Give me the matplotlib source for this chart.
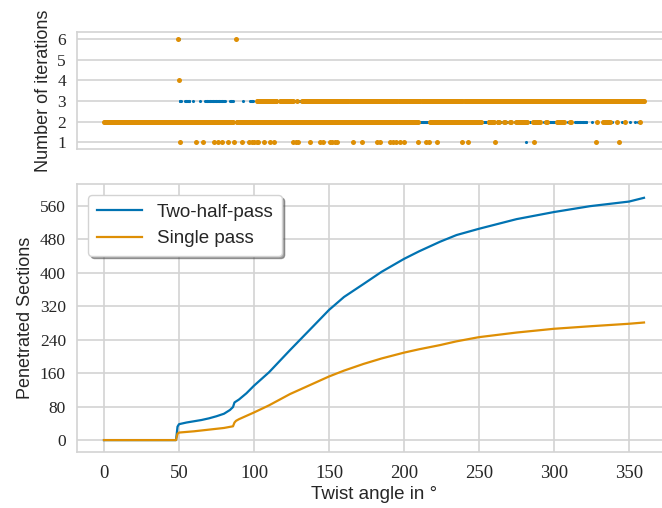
#!/usr/bin/env python
# coding: utf_8

import numpy as np
import matplotlib
matplotlib.use("Agg")
import matplotlib.pyplot as plt

# Penetrated sections (cumulative) vs. twist angle.
two_half_angle = [0, 48, 48.5, 49, 50, 55, 60, 65, 70, 75, 80, 84, 86, 87, 90, 95, 100, 110, 124,
                  140, 150, 160, 173, 185, 200, 210, 224, 235, 250, 275, 300, 324, 350, 360]
two_half_sections = [0, 0, 15, 32, 38, 42, 45, 48, 52, 57, 63, 72, 79, 90, 97, 112, 130, 162, 215,
                     274, 311, 342, 373, 402, 433, 451, 474, 490, 505, 528, 545, 559, 570, 579]
single_angle = [0, 48, 49, 50, 60, 70, 80, 86, 87, 88, 90, 100, 110, 124, 150, 160, 173, 185,
                200, 210, 224, 235, 250, 275, 300, 324, 350, 360]
single_sections = [0, 0, 15, 18, 21, 25, 29, 33, 42, 46, 50, 66, 83, 110, 152, 166, 182, 195,
                   209, 217, 227, 236, 246, 257, 266, 272, 278, 281]

# Number of iterations: angles sampled every 0.5 deg, intervals / single angles per level.
angle_grid = np.arange(0, 360.5, 0.5)

single_iter_runs = {
    2: [(0, 48.5), (49.5, 86), (88.5, 209.5), (217.5, 251.5), (256.5, 260), (262.5, 263.5),
        (267, 267.5), (271, 271.5), (275, 282), (286, 290.5), (294.5, 295), (302, 306.5),
        (310.5, 311), (328.5, 328.5), (332.5, 337), (342, 342), (347.5, 347.5), (357.5, 357.5)],
    3: [(102, 115), (117.5, 126), (128.5, 128.5), (132, 142), (143, 162.5), (164, 195.5),
        (197, 210.5), (212, 239), (240.5, 360)],
}
single_iter_points = {
    1: [50.5, 61.5, 66, 73.5, 76, 79, 83, 86.5, 92, 96.5, 98.5, 100, 102, 103, 107, 110.5, 113.5,
        126, 128, 129.5, 137.5, 144, 146, 150.5, 152, 154, 155.5, 166, 172, 182, 184, 190.5, 192.5,
        195, 197.5, 200, 209.5, 215, 217, 222, 239, 243, 260.5, 286.5, 328, 343],
    4: [50],
    6: [49.5, 88],
}

two_half_iter_runs = {
    2: [(0, 48.5), (49.5, 86), (88.5, 150), (209.5, 217.5), (251.5, 256), (296.5, 300.5),
        (314, 321.5)],
    3: [(50.5, 51.5), (54, 57), (59.5, 59.5), (64, 64), (67.5, 80.5), (84, 86), (93, 93),
        (97.5, 99.5), (102, 360)],
}
two_half_iter_points = {
    1: [281.5],
    2: [113, 145, 152, 155.5, 164, 173, 180.5, 190, 198.5, 205, 221.5, 228.5, 238.5, 244, 262,
        265, 268.5, 274, 284, 293, 309, 325, 338.5, 345, 350.5, 354, 356],
    6: [50],
}

blue = "#0173B2"
orange = "#DE8F05"
grid_c = "#d3d3d3"
text_c = "#262626"


def levelPoints(runs, points):
    xs, ys = [], []
    for level, spans in runs.items():
        for a, b in spans:
            sel = angle_grid[(angle_grid >= a) & (angle_grid <= b)]
            xs.extend(sel)
            ys.extend([level] * len(sel))
    for level, angles in points.items():
        xs.extend(angles)
        ys.extend([level] * len(angles))
    return xs, ys


def styleAxes(ax):
    for s in ax.spines.values():
        s.set_color(grid_c)
        s.set_linewidth(1.2)
    ax.tick_params(axis="y", length=0, labelsize=12.5, pad=8, colors=text_c)
    ax.tick_params(axis="x", length=0, labelsize=13.5, pad=9, colors=text_c)
    for lab in ax.get_xticklabels() + ax.get_yticklabels():
        lab.set_family("Liberation Serif")


def main():
    plt.rcParams['font.family'] = ['Liberation Sans', 'DejaVu Sans']
    fig = plt.figure(figsize=(6.62, 5.08), dpi=100)
    ax1 = fig.add_axes([0.1163, 0.7067, 0.8973, 0.2303])
    ax2 = fig.add_axes([0.1163, 0.1102, 0.8973, 0.5276], sharex=ax1)

    # Top: iterations
    bx, by = levelPoints(two_half_iter_runs, two_half_iter_points)
    ox, oy = levelPoints(single_iter_runs, single_iter_points)
    ax1.scatter(bx, by, s=5, color=blue, linewidths=0, zorder=3)
    ax1.scatter(ox, oy, s=13, color=orange, linewidths=0, zorder=4)
    ax1.set_ylim(0.68, 6.35)
    ax1.set_yticks([1, 2, 3, 4, 5, 6])
    ax1.grid(axis="y", color=grid_c, linewidth=1.2)
    ax1.grid(axis="x", visible=False)
    ax1.set_axisbelow(True)
    ax1.set_ylabel("Number of iterations", fontsize=13, color=text_c)

    # Bottom: penetrated sections
    ax2.plot(two_half_angle, two_half_sections, color=blue, linewidth=1.6, label="Two-half-pass")
    ax2.plot(single_angle, single_sections, color=orange, linewidth=1.6, label="Single pass")
    ax2.set_xlim(-18, 378)
    ax2.set_ylim(-28.5, 612)
    ax2.set_yticks(np.arange(0, 561, 80))
    ax2.set_xticks(np.arange(0, 351, 50))
    ax2.grid(color=grid_c, linewidth=1.2)
    ax2.set_axisbelow(True)
    ax2.set_ylabel("Penetrated Sections", fontsize=13, color=text_c)
    ax2.set_xlabel("Twist angle in °", fontsize=13.5, color=text_c, labelpad=3)

    leg = ax2.legend(loc="upper left", fontsize=13.5, shadow=True, fancybox=True,
                     handlelength=2.4, borderpad=0.45, framealpha=1.0,
                     bbox_to_anchor=(0.0, 1.0), borderaxespad=0.6)
    leg.get_frame().set_edgecolor(grid_c)
    for t in leg.get_texts():
        t.set_color(text_c)

    styleAxes(ax1)
    styleAxes(ax2)
    ax1.tick_params(axis="x", labelbottom=False)

    fig.savefig("out.png", dpi=100)


if __name__ == "__main__":
    main()
